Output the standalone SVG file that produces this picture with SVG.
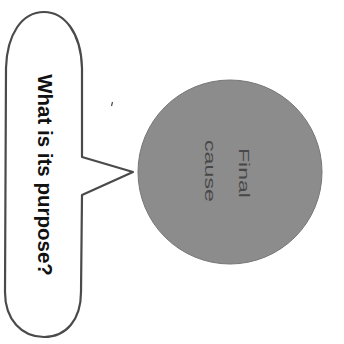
<svg xmlns="http://www.w3.org/2000/svg" width="344" height="344" viewBox="0 0 344 344">
<style>
.outline{fill:#fff;stroke:#4a4a4a;stroke-width:2.2;stroke-linejoin:round}
.q{font-family:"Liberation Sans",Arial,sans-serif;font-weight:bold;font-size:20.5px;fill:#111}
.c{font-family:"Liberation Sans",Arial,sans-serif;font-size:15.5px;fill:#484848}
</style>
<rect width="344" height="344" fill="#fff"/>
<g id="bubble">
<path class="outline" d="M82,157 L82,68 C81,32 64,12 44,12 C22,12 7,34 6,68 L5,292 C5,320 22,337 44,337 C66,337 81,320 81,292 L82,195 L133,172 Z"/>
<text class="q" text-anchor="middle" transform="translate(38,175) rotate(90)">What is its purpose?</text>
</g>
<g id="final-cause">
<circle cx="230" cy="172" r="92" fill="#8c8c8c" stroke="#777" stroke-width="1"/>
<text class="c" text-anchor="middle" textLength="50" lengthAdjust="spacingAndGlyphs" transform="translate(239,173) rotate(90)">Final</text>
<text class="c" text-anchor="middle" textLength="62" lengthAdjust="spacingAndGlyphs" transform="translate(205,171) rotate(90)">cause</text>
</g>
<g id="connectors">
<line x1="112.5" y1="102" x2="111.5" y2="106" stroke="#444" stroke-width="1.2"/>
</g>
</svg>
